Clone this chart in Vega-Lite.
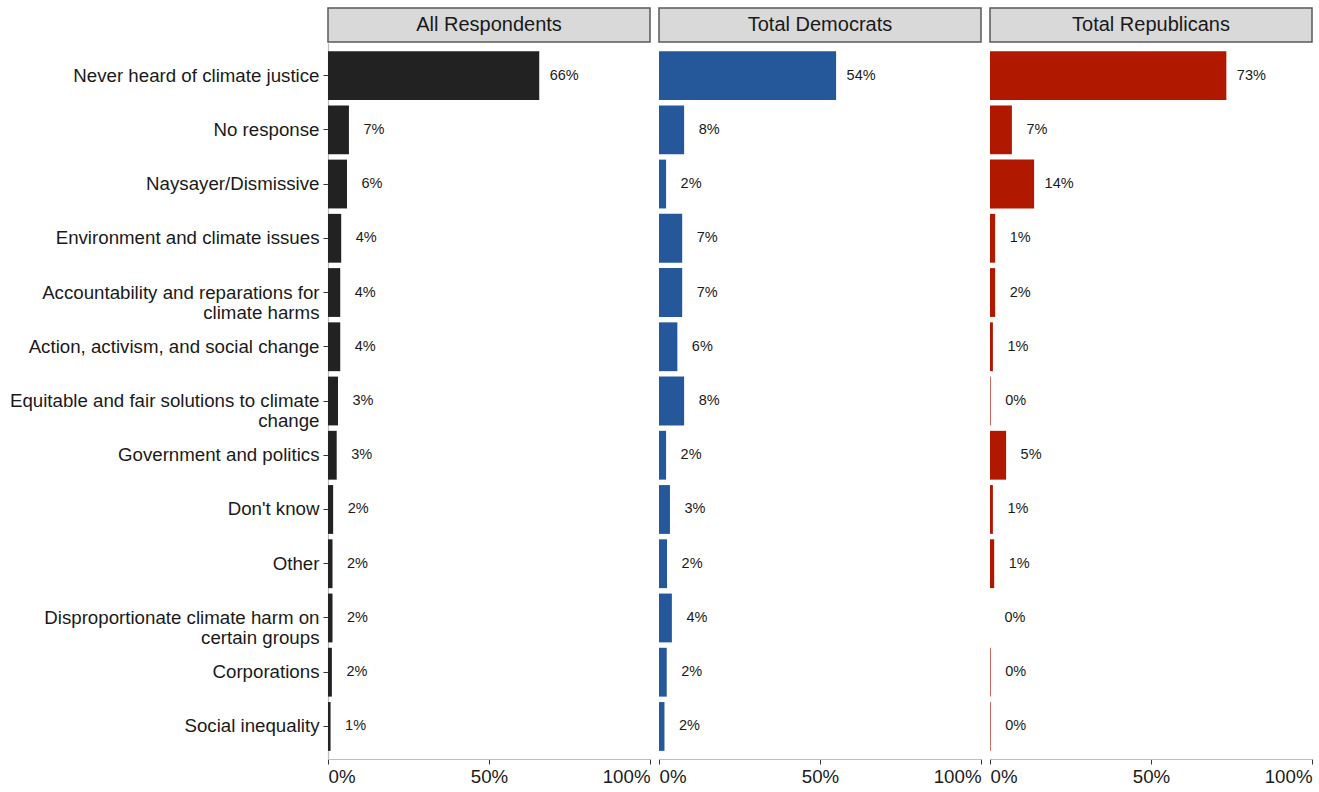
{
  "$schema": "https://vega.github.io/schema/vega-lite/v6.json",
  "padding": {"left": 9, "top": 7, "right": 5, "bottom": 2},
  "background": "white",
  "config": {
    "font": "Liberation Sans",
    "view": {"stroke": null},
    "axis": {"grid": false, "domainColor": "#bdbdbd", "domainWidth": 1.2, "tickColor": "#333333", "tickSize": 5, "labelColor": "#1a1a1a", "labelFontSize": 18.7, "title": null}
  },
  "datasets": {
    "bars": [
      {"panel": "All Respondents", "category": "Never heard of climate justice", "value": 0.656, "label": "66%"},
      {"panel": "All Respondents", "category": "No response", "value": 0.065, "label": "7%"},
      {"panel": "All Respondents", "category": "Naysayer/Dismissive", "value": 0.059, "label": "6%"},
      {"panel": "All Respondents", "category": "Environment and climate issues", "value": 0.041, "label": "4%"},
      {"panel": "All Respondents", "category": "Accountability and reparations for\nclimate harms", "value": 0.038, "label": "4%"},
      {"panel": "All Respondents", "category": "Action, activism, and social change", "value": 0.038, "label": "4%"},
      {"panel": "All Respondents", "category": "Equitable and fair solutions to climate\nchange", "value": 0.031, "label": "3%"},
      {"panel": "All Respondents", "category": "Government and politics", "value": 0.027, "label": "3%"},
      {"panel": "All Respondents", "category": "Don't know", "value": 0.016, "label": "2%"},
      {"panel": "All Respondents", "category": "Other", "value": 0.014, "label": "2%"},
      {"panel": "All Respondents", "category": "Disproportionate climate harm on\ncertain groups", "value": 0.014, "label": "2%"},
      {"panel": "All Respondents", "category": "Corporations", "value": 0.012, "label": "2%"},
      {"panel": "All Respondents", "category": "Social inequality", "value": 0.008, "label": "1%"},
      {"panel": "Total Democrats", "category": "Never heard of climate justice", "value": 0.55, "label": "54%"},
      {"panel": "Total Democrats", "category": "No response", "value": 0.078, "label": "8%"},
      {"panel": "Total Democrats", "category": "Naysayer/Dismissive", "value": 0.022, "label": "2%"},
      {"panel": "Total Democrats", "category": "Environment and climate issues", "value": 0.072, "label": "7%"},
      {"panel": "Total Democrats", "category": "Accountability and reparations for\nclimate harms", "value": 0.072, "label": "7%"},
      {"panel": "Total Democrats", "category": "Action, activism, and social change", "value": 0.057, "label": "6%"},
      {"panel": "Total Democrats", "category": "Equitable and fair solutions to climate\nchange", "value": 0.078, "label": "8%"},
      {"panel": "Total Democrats", "category": "Government and politics", "value": 0.022, "label": "2%"},
      {"panel": "Total Democrats", "category": "Don't know", "value": 0.034, "label": "3%"},
      {"panel": "Total Democrats", "category": "Other", "value": 0.025, "label": "2%"},
      {"panel": "Total Democrats", "category": "Disproportionate climate harm on\ncertain groups", "value": 0.04, "label": "4%"},
      {"panel": "Total Democrats", "category": "Corporations", "value": 0.024, "label": "2%"},
      {"panel": "Total Democrats", "category": "Social inequality", "value": 0.017, "label": "2%"},
      {"panel": "Total Republicans", "category": "Never heard of climate justice", "value": 0.734, "label": "73%"},
      {"panel": "Total Republicans", "category": "No response", "value": 0.068, "label": "7%"},
      {"panel": "Total Republicans", "category": "Naysayer/Dismissive", "value": 0.137, "label": "14%"},
      {"panel": "Total Republicans", "category": "Environment and climate issues", "value": 0.016, "label": "1%"},
      {"panel": "Total Republicans", "category": "Accountability and reparations for\nclimate harms", "value": 0.016, "label": "2%"},
      {"panel": "Total Republicans", "category": "Action, activism, and social change", "value": 0.009, "label": "1%"},
      {"panel": "Total Republicans", "category": "Equitable and fair solutions to climate\nchange", "value": 0.002, "label": "0%"},
      {"panel": "Total Republicans", "category": "Government and politics", "value": 0.05, "label": "5%"},
      {"panel": "Total Republicans", "category": "Don't know", "value": 0.009, "label": "1%"},
      {"panel": "Total Republicans", "category": "Other", "value": 0.013, "label": "1%"},
      {"panel": "Total Republicans", "category": "Disproportionate climate harm on\ncertain groups", "value": 0.0, "label": "0%"},
      {"panel": "Total Republicans", "category": "Corporations", "value": 0.002, "label": "0%"},
      {"panel": "Total Republicans", "category": "Social inequality", "value": 0.002, "label": "0%"}
    ]
  },
  "hconcat": [
    {
      "spacing": 0,
      "vconcat": [
        {
          "width": 322, "height": 34,
          "view": {"fill": "#d9d9d9", "stroke": "#5a5a5a", "strokeWidth": 1.5},
          "data": {"values": [{"panel": "All Respondents"}]},
          "mark": {"type": "text", "fontSize": 20, "color": "#1a1a1a", "baseline": "middle", "align": "center"},
          "encoding": {"text": {"field": "panel"}}
        },
        {
          "width": 322, "height": 716,
          "data": {"name": "bars"},
          "transform": [{"filter": "datum.panel === 'All Respondents'"}],
          "encoding": {
            "y": {"field": "category", "type": "nominal", "sort": null, "scale": {"paddingInner": 0.1, "paddingOuter": 0.15},
                  "axis": {"labelExpr": "split(datum.label, '\\n')", "labelLimit": 500, "labelLineHeight": 20, "labelPadding": 4}},
            "x": {"field": "value", "type": "quantitative", "scale": {"domain": [0, 1], "nice": false},
                  "axis": {"values": [0, 0.5, 1], "format": ".0%", "labelFlush": true, "labelPadding": 3}}
          },
          "layer": [
            {"mark": {"type": "bar", "color": "#222222"}},
            {"mark": {"type": "text", "dx": 25, "align": "center", "fontSize": 14.5, "color": "#1a1a1a"}, "encoding": {"text": {"field": "label"}}}
          ]
        }
      ]
    },
    {
      "spacing": 0,
      "vconcat": [
        {
          "width": 322, "height": 34,
          "view": {"fill": "#d9d9d9", "stroke": "#5a5a5a", "strokeWidth": 1.5},
          "data": {"values": [{"panel": "Total Democrats"}]},
          "mark": {"type": "text", "fontSize": 20, "color": "#1a1a1a", "baseline": "middle", "align": "center"},
          "encoding": {"text": {"field": "panel"}}
        },
        {
          "width": 322, "height": 716,
          "data": {"name": "bars"},
          "transform": [{"filter": "datum.panel === 'Total Democrats'"}],
          "encoding": {
            "y": {"field": "category", "type": "nominal", "sort": null, "scale": {"paddingInner": 0.1, "paddingOuter": 0.15}, "axis": null},
            "x": {"field": "value", "type": "quantitative", "scale": {"domain": [0, 1], "nice": false},
                  "axis": {"values": [0, 0.5, 1], "format": ".0%", "labelFlush": true, "labelPadding": 3}}
          },
          "layer": [
            {"mark": {"type": "bar", "color": "#24589a"}},
            {"mark": {"type": "text", "dx": 25, "align": "center", "fontSize": 14.5, "color": "#1a1a1a"}, "encoding": {"text": {"field": "label"}}}
          ]
        }
      ]
    },
    {
      "spacing": 0,
      "vconcat": [
        {
          "width": 322, "height": 34,
          "view": {"fill": "#d9d9d9", "stroke": "#5a5a5a", "strokeWidth": 1.5},
          "data": {"values": [{"panel": "Total Republicans"}]},
          "mark": {"type": "text", "fontSize": 20, "color": "#1a1a1a", "baseline": "middle", "align": "center"},
          "encoding": {"text": {"field": "panel"}}
        },
        {
          "width": 322, "height": 716,
          "data": {"name": "bars"},
          "transform": [{"filter": "datum.panel === 'Total Republicans'"}],
          "encoding": {
            "y": {"field": "category", "type": "nominal", "sort": null, "scale": {"paddingInner": 0.1, "paddingOuter": 0.15}, "axis": null},
            "x": {"field": "value", "type": "quantitative", "scale": {"domain": [0, 1], "nice": false},
                  "axis": {"values": [0, 0.5, 1], "format": ".0%", "labelFlush": true, "labelPadding": 3}}
          },
          "layer": [
            {"mark": {"type": "bar", "color": "#b01800"}},
            {"mark": {"type": "text", "dx": 25, "align": "center", "fontSize": 14.5, "color": "#1a1a1a"}, "encoding": {"text": {"field": "label"}}}
          ]
        }
      ]
    }
  ],
  "spacing": 7
}
